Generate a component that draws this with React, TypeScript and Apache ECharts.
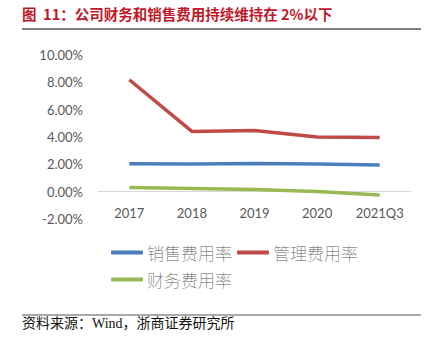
import React, { useEffect, useRef } from "react";
import * as echarts from "echarts";

const categories = ["2017", "2018", "2019", "2020", "2021Q3"];
const salesRate = [2.05, 2.02, 2.07, 2.02, 1.95];
const mgmtRate = [8.19, 4.41, 4.48, 4.0, 3.97];
const finRate = [0.31, 0.24, 0.15, 0.02, -0.24];
const seriesNames = ["销售费用率", "管理费用率", "财务费用率"];
const titleText = "图  11：公司财务和销售费用持续维持在 2%以下";
const sourceText = "资料来源：Wind，浙商证券研究所";

export default function App() {
  const ref = useRef<HTMLDivElement>(null);
  useEffect(() => {
    if (!ref.current) return;
    const chart = echarts.init(ref.current, null, { renderer: "svg" });
    const lineSeries = (name: string, data: number[], color: string) => ({
      name,
      type: "line",
      data,
      symbol: "none",
      lineStyle: { color, width: 3.5 },
      itemStyle: { color },
    });
    const legendText = {
      color: "#595959",
      fontSize: 17,
      fontWeight: "lighter",
      fontFamily: "Noto Sans CJK SC",
      padding: [0, 0, 0, -1],
    };
    chart.setOption({
      animation: false,
      backgroundColor: "#ffffff",
      grid: { left: 98, right: 21, top: 55, bottom: 119 },
      xAxis: {
        type: "category",
        data: categories,
        boundaryGap: true,
        axisLine: { show: true, onZero: true, lineStyle: { color: "#d9d9d9", width: 1 } },
        axisTick: { show: false },
        axisLabel: {
          color: "#595959",
          fontSize: 13,
          fontFamily: "Lato",
          margin: -13,
        },
      },
      yAxis: {
        type: "value",
        min: -2,
        max: 10,
        interval: 2,
        axisLine: { show: false },
        axisTick: { show: false },
        splitLine: { show: false },
        axisLabel: {
          color: "#595959",
          fontSize: 13,
          fontFamily: "Lato",
          margin: 15,
          formatter: (v: number) => v.toFixed(2) + "%",
        },
      },
      legend: [
        {
          data: [seriesNames[0], seriesNames[1]],
          left: 106,
          top: 239,
          itemWidth: 32,
          itemHeight: 4,
          itemGap: 5,
          icon: "roundRect",
          textStyle: legendText,
        },
        {
          data: [seriesNames[2]],
          left: 106,
          top: 266,
          itemWidth: 32,
          itemHeight: 4,
          icon: "roundRect",
          textStyle: legendText,
        },
      ],
      series: [
        lineSeries(seriesNames[0], salesRate, "#4a7ebb"),
        lineSeries(seriesNames[1], mgmtRate, "#be4b48"),
        lineSeries(seriesNames[2], finRate, "#98b954"),
      ],
      graphic: [
        {
          type: "text",
          left: 22,
          top: 6,
          style: {
            text: titleText,
            fill: "#c0182a",
            font: "bold 14.5px 'Noto Sans CJK SC'",
          },
        },
        {
          type: "line",
          shape: { x1: 22, y1: 29, x2: 421, y2: 29 },
          style: { stroke: "#555555", lineWidth: 1.5 },
        },
        {
          type: "line",
          shape: { x1: 22, y1: 315, x2: 421, y2: 315 },
          style: { stroke: "#555555", lineWidth: 1 },
        },
        {
          type: "text",
          left: 22,
          top: 316,
          style: {
            text: sourceText,
            fill: "#111111",
            font: "14px 'Liberation Serif', 'Noto Sans CJK SC'",
          },
        },
      ],
    });
    return () => chart.dispose();
  }, []);
  return (
    <div
      ref={ref}
      style={{ position: "fixed", left: 0, top: 0, width: 432, height: 338 }}
    />
  );
}
